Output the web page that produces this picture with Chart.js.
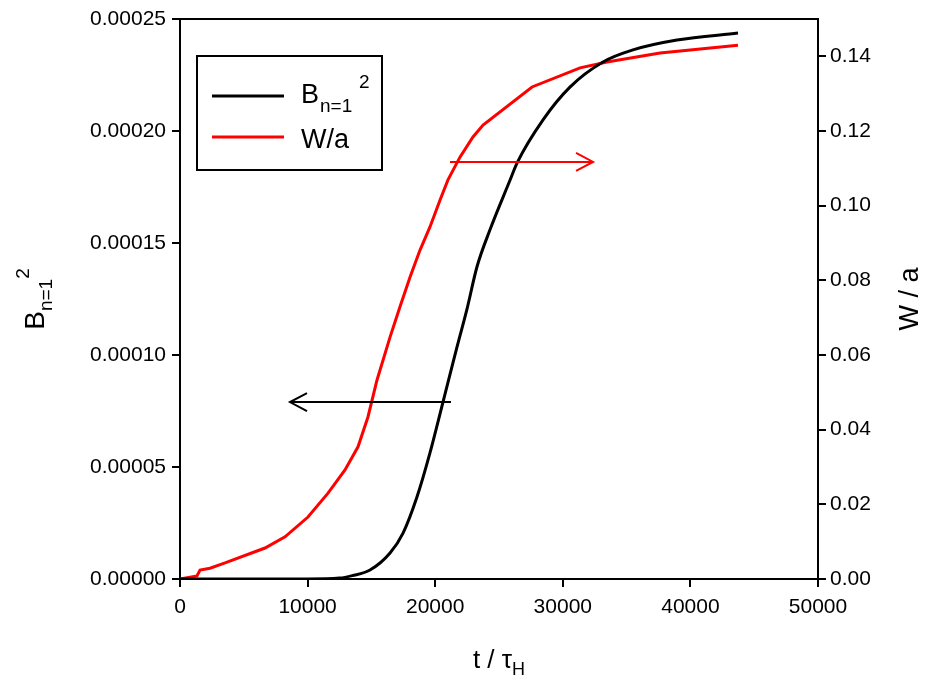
<!DOCTYPE html>
<html>
<head>
<meta charset="utf-8">
<script src="https://cdn.jsdelivr.net/npm/chart.js@4/dist/chart.umd.min.js"></script>
<style>
  body { margin: 0; background: #fff; }
  canvas { display: block; background: #fff; }
</style>
</head>
<body>
<canvas id="growth-chart" width="930" height="683"></canvas>
<script>
/* Curve data */
const tB = [0, 10000, 12500, 13500, 14890, 16460, 17480, 18570, 19590, 20610, 21710, 22490, 23280, 24300, 25860, 26410, 28450, 30560, 33150, 35500, 38950, 43730];
const bSquared = [0, 0, 0.0000004, 0.0000015, 0.000004, 0.0000116, 0.0000205, 0.0000366, 0.0000563, 0.000079, 0.0001036, 0.0001205, 0.0001395, 0.0001560, 0.000178, 0.0001857, 0.000205, 0.0002196, 0.0002308, 0.0002362, 0.0002406, 0.0002437];

const tW = [0, 780, 1330, 1570, 2350, 3530, 6660, 8230, 10030, 11600, 12930, 13950, 14730, 15440, 16460, 17240, 18030, 18810, 19590, 20380, 21000, 21940, 22960, 23750, 27590, 31350, 33460, 37620, 43730];
const wOverA = [0, 0.0005, 0.0008, 0.0024, 0.0029, 0.0043, 0.0083, 0.0113, 0.0166, 0.0230, 0.0292, 0.0354, 0.0434, 0.0533, 0.0648, 0.0729, 0.0809, 0.0881, 0.0943, 0.1015, 0.1069, 0.1130, 0.1184, 0.1216, 0.1318, 0.1369, 0.1385, 0.1409, 0.1430];

/* Arrows: [t start, t end, value] */
const arrowB = [21240, 8620, 0.000079];
const arrowW = [21160, 32370, 0.1117];

const FONT = '"Liberation Sans", Arial, sans-serif';

function toPoints(xs, ys) {
    return xs.map((x, i) => ({ x: x, y: ys[i] }));
}

/* Draw text made of parts with different sizes / baseline shifts */
function drawRich(ctx, parts, x, y) {
    let width = 0;
    parts.forEach(p => {
        ctx.font = p.size + 'px ' + FONT;
        p.w = ctx.measureText(p.text).width;
        width += p.w;
    });
    let cx = x - width / 2;
    ctx.textAlign = 'left';
    ctx.textBaseline = 'alphabetic';
    parts.forEach(p => {
        ctx.font = p.size + 'px ' + FONT;
        ctx.fillText(p.text, cx, y + p.dy);
        cx += p.w;
    });
}

function drawArrow(ctx, x1, x2, y, color) {
    const dir = x2 > x1 ? 1 : -1;
    ctx.strokeStyle = color;
    ctx.lineWidth = 2;
    ctx.beginPath();
    ctx.moveTo(x1, y);
    ctx.lineTo(x2, y);
    ctx.moveTo(x2 - dir * 17, y - 9);
    ctx.lineTo(x2, y);
    ctx.lineTo(x2 - dir * 17, y + 9);
    ctx.stroke();
}

const decorations = {
    id: 'decorations',
    afterDraw(chart) {
        const ctx = chart.ctx;
        const area = chart.chartArea;
        const sx = chart.scales.x;
        const sB = chart.scales.yB;
        const sW = chart.scales.yW;
        ctx.save();

        // frame top line
        ctx.strokeStyle = '#000';
        ctx.lineWidth = 2;
        ctx.beginPath();
        ctx.moveTo(area.left, area.top);
        ctx.lineTo(area.right, area.top);
        ctx.stroke();

        // arrows
        drawArrow(ctx, sx.getPixelForValue(arrowB[0]), sx.getPixelForValue(arrowB[1]), sB.getPixelForValue(arrowB[2]), '#000');
        drawArrow(ctx, sx.getPixelForValue(arrowW[0]), sx.getPixelForValue(arrowW[1]), sW.getPixelForValue(arrowW[2]), '#ff0000');

        // legend
        const lx = area.left + 17, ly = area.top + 37;
        ctx.lineWidth = 2;
        ctx.strokeStyle = '#000';
        ctx.strokeRect(lx, ly, 185, 114);
        ctx.lineWidth = 3;
        ctx.beginPath();
        ctx.moveTo(lx + 15, ly + 40);
        ctx.lineTo(lx + 87, ly + 40);
        ctx.stroke();
        ctx.strokeStyle = '#ff0000';
        ctx.beginPath();
        ctx.moveTo(lx + 15, ly + 81);
        ctx.lineTo(lx + 87, ly + 81);
        ctx.stroke();
        ctx.fillStyle = '#000';
        ctx.textAlign = 'left';
        ctx.font = '27px ' + FONT;
        ctx.fillText('B', lx + 104, ly + 47);
        ctx.font = '19px ' + FONT;
        ctx.fillText('n=1', lx + 123, ly + 56);
        ctx.fillText('2', lx + 162, ly + 32);
        ctx.font = '27px ' + FONT;
        ctx.fillText('W/a', lx + 104, ly + 92);

        // axis titles
        ctx.fillStyle = '#000';
        drawRich(ctx, [
            { text: 't / \u03c4', size: 26, dy: 0 },
            { text: 'H', size: 18, dy: 7 }
        ], (area.left + area.right) / 2, 668);

        ctx.save();
        ctx.translate(44, (area.top + area.bottom) / 2);
        ctx.rotate(-Math.PI / 2);
        drawRich(ctx, [
            { text: 'B', size: 28, dy: 0 },
            { text: 'n=1', size: 19, dy: 8 },
            { text: '2', size: 19, dy: -15 }
        ], 0, 0);
        ctx.restore();

        ctx.save();
        ctx.translate(918, (area.top + area.bottom) / 2);
        ctx.rotate(-Math.PI / 2);
        drawRich(ctx, [{ text: 'W / a', size: 27, dy: 0 }], 0, 0);
        ctx.restore();

        ctx.restore();
    }
};

const axisGrid = {
    drawOnChartArea: false,
    drawTicks: true,
    tickLength: 8,
    color: '#000',
    lineWidth: 2
};
const axisBorder = { display: true, color: '#000', width: 2 };
const tickFont = { family: FONT, size: 21 };

const ctx = document.getElementById('growth-chart');
const growthChart = new Chart(ctx, {
    type: 'line',
    data: {
        datasets: [{
            label: 'B n=1 ^2',
            data: toPoints(tB, bSquared),
            yAxisID: 'yB',
            borderColor: '#000',
            borderWidth: 3,
            pointRadius: 0,
            cubicInterpolationMode: 'monotone',
            fill: false
        }, {
            label: 'W/a',
            data: toPoints(tW, wOverA),
            yAxisID: 'yW',
            borderColor: '#ff0000',
            borderWidth: 3,
            pointRadius: 0,
            tension: 0,
            fill: false
        }]
    },
    options: {
        responsive: false,
        animation: false,
        devicePixelRatio: 1,
        layout: { padding: { top: 19, left: 0, right: 0, bottom: 0 } },
        plugins: {
            legend: { display: false },
            tooltip: { enabled: false }
        },
        scales: {
            x: {
                type: 'linear',
                min: 0,
                max: 50000,
                grid: axisGrid,
                border: axisBorder,
                ticks: {
                    stepSize: 10000,
                    color: '#000',
                    font: tickFont,
                    padding: 8,
                    maxRotation: 0,
                    callback: v => String(v)
                },
                afterFit: s => { s.height = 104; }
            },
            yB: {
                type: 'linear',
                position: 'left',
                min: 0,
                max: 0.00025,
                grid: axisGrid,
                border: axisBorder,
                ticks: {
                    stepSize: 0.00005,
                    color: '#000',
                    font: tickFont,
                    padding: 6,
                    callback: v => v.toFixed(5)
                },
                afterFit: s => { s.width = 180; }
            },
            yW: {
                type: 'linear',
                position: 'right',
                min: 0,
                max: 0.15,
                grid: axisGrid,
                border: axisBorder,
                ticks: {
                    stepSize: 0.02,
                    includeBounds: false,
                    color: '#000',
                    font: tickFont,
                    padding: 4,
                    callback: v => v.toFixed(2)
                },
                afterFit: s => { s.width = 112; }
            }
        }
    },
    plugins: [decorations]
});
</script>
</body>
</html>
